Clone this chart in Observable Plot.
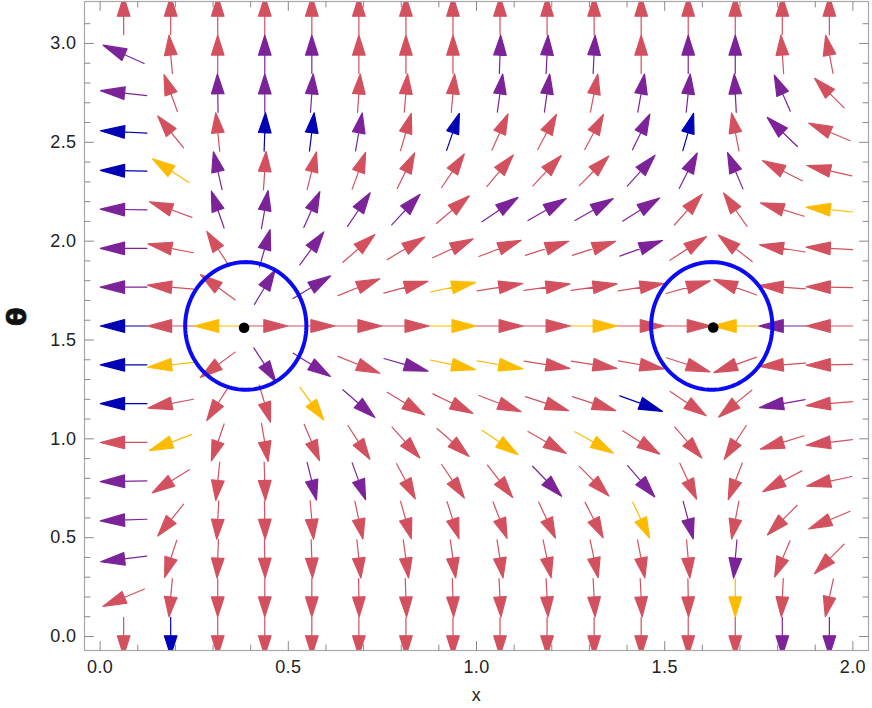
<!DOCTYPE html>
<html><head><meta charset="utf-8">
<script src="https://cdn.jsdelivr.net/npm/d3@7"></script>
<script src="https://cdn.jsdelivr.net/npm/@observablehq/plot@0.6"></script>
<style>body{margin:0;background:#fff;} svg text{letter-spacing:0.4px;}</style>
</head><body><div id="chart"></div>
<script>
// grid of the vector field
const xGrid = [0.0625,0.1875,0.3125,0.4375,0.5625,0.6875,0.8125,0.9375,1.0625,1.1875,1.3125,1.4375,1.5625,1.6875,1.8125,1.9375];
const thetaGrid = [0,0.1963,0.3927,0.5890,0.7854,0.9817,1.1781,1.3744,1.5708,1.7671,1.9635,2.1598,2.3562,2.5525,2.7489,2.9452,3.1416];
// arrow direction (degrees on screen, counter-clockwise from +x), rows from top (theta = pi) to bottom (theta = 0)
const arrowAngles = [
  [90,90,90,90,90,90,90,90,90,90,90,90,90,90,90,90],
  [156,95,90,90,90,90,90,90,88,87,87,90,90,90,94,101],
  [174,110,91,90,86,86,85,85,82,82,79,80,84,93,114,135],
  [177,129,96,88,83,80,74,71,66,62,62,64,74,101,136,157],
  [179,147,103,86,76,70,64,56,50,47,45,48,63,113,153,167],
  [179,160,109,80,66,56,47,40,34,30,30,32,48,125,163,174],
  [180,169,123,74,54,41,31,25,21,18,18,20,33,142,171,177],
  [180,175,144,59,31,22,15,12,9,8,8,9,16,160,176,179],
  [180,180,180,0,0,0,0,0,0,0,0,0,0,180,180,180],
  [180,186,216,303,328,338,344,348,350,351,351,350,342,200,184,181],
  [180,191,237,287,306,319,329,334,339,342,342,340,326,219,190,185],
  [180,201,251,280,293,303,312,319,326,330,331,328,311,237,197,187],
  [181,212,264,272,284,290,298,304,308,314,315,311,295,249,208,192],
  [182,231,267,271,275,282,286,288,291,295,297,295,285,259,225,203],
  [187,252,268,271,272,276,278,278,279,282,282,281,275,265,247,225],
  [203,265,270,270,270,271,272,272,273,273,273,273,271,270,267,258],
  [270,270,270,270,270,270,270,270,270,270,270,270,270,270,270,270]
];
// arrow colour class, same layout (b blue, p purple, r red, y yellow)
const arrowColorRows = [
  "r r r r r r r r r r r r r r r r",
  "p r r p p r r r p p p r p p r r",
  "p r p p p r r r p p r p p p p r",
  "b r r b b p r b r r r p b r p r",
  "b y p r r r r r r r r p p p r r",
  "p r p p p p p r p p p p r r r y",
  "p r r p p r r r r r r p r r r r",
  "p r r p p r r y r r r r r r r r",
  "b r y r r r r y r r y r r y p r",
  "b y r p p r p y y r r r r r r r",
  "b r r r y p r r r r r b r r p r",
  "r y r r r r r r y r y r r r r r",
  "p r r r p p r r r p r p r r r r",
  "p r r r r r r r r r r y p r r r",
  "p r r r r r r r r r r r r p r r",
  "r r r r r r r r r r r r r y r r",
  "r b r r r r r r r r r r r r p p"
];
const palette = {b: "#0000b4", p: "#7c2399", r: "#d3515f", y: "#fdbb00"};
// circles and fixed points
const circleX = [0.387, 1.625];
const circleY = [1.571, 1.571];
const circleRx = [0.161, 0.161];
const circleRy = [0.323, 0.323];
const fixedX = [0.3825, 1.629];
const fixedY = [1.562, 1.563];
const xTickLabels = [0, 0.5, 1.0, 1.5, 2.0];
const yTickLabels = [0, 0.5, 1.0, 1.5, 2.0, 2.5, 3.0];

const W = 872, H = 708, mL = 84, mR = 4, mT = 1, mB = 58;
const xDomain = [-0.0415, 2.0415];
const yDomain = [-0.0707, 3.2123];
const pxX = (W - mL - mR) / (xDomain[1] - xDomain[0]);
const pxY = (H - mT - mB) / (yDomain[1] - yDomain[0]);
const cellW = pxX * (xGrid[1] - xGrid[0]);
const cellH = pxY * (thetaGrid[1] - thetaGrid[0]);

const arrows = [];
arrowAngles.forEach((row, r) => {
  const cols = arrowColorRows[r].split(" ");
  row.forEach((a, c) => {
    const t = a * Math.PI / 180;
    const len = 1 / Math.sqrt((Math.cos(t) / cellW) ** 2 + (Math.sin(t) / cellH) ** 2);
    arrows.push({x: xGrid[c], y: thetaGrid[16 - r], rotate: 90 - a, length: len * 0.99, color: palette[cols[c]]});
  });
});

const arrowShape = {
  draw(ctx, l, r) {
    const h = l * 0.52;
    ctx.moveTo(0, 0);
    ctx.lineTo(0, -l + h * 0.8);
    ctx.moveTo(0, -l);
    ctx.lineTo(-r, -l + h);
    ctx.lineTo(r, -l + h);
    ctx.closePath();
  }
};
const tickShape = {draw(ctx, l) { ctx.moveTo(0, 0); ctx.lineTo(0, -l); }};

const xTicks = d3.range(0, 21).map(i => ({v: i / 10, len: i % 5 === 0 ? 9 : 5.5}));
const yTicks = d3.range(0, 32).map(i => ({v: i / 10, len: i % 5 === 0 ? 9 : 5.5}));

const ellipse = [];
circleX.forEach((cx, k) => {
  for (let i = 0; i <= 160; i++) {
    const t = i / 160 * 2 * Math.PI;
    ellipse.push({k, x: cx + circleRx[k] * Math.cos(t), y: circleY[k] + circleRy[k] * Math.sin(t)});
  }
});
const fixedPts = fixedX.map((x, i) => ({x, y: fixedY[i]}));

const tickStyle = {shape: tickShape, anchor: "start", stroke: "#8a8a8a", strokeWidth: 1, length: "len"};

const chart = Plot.plot({
  width: W, height: H,
  marginLeft: mL, marginRight: mR, marginTop: mT, marginBottom: mB,
  x: {domain: xDomain},
  y: {domain: yDomain},
  color: {type: "identity"},
  length: {type: "identity"},
  style: {fontFamily: "'Liberation Sans', Arial, sans-serif", background: "white", overflow: "visible"},
  marks: [
    Plot.vector(arrows, {x: "x", y: "y", rotate: "rotate", length: "length", anchor: "middle",
      shape: arrowShape, r: 6.3, stroke: "color", fill: "color", strokeWidth: 1.2, clip: true}),
    Plot.line(ellipse, {x: "x", y: "y", z: "k", stroke: "#0a0af5", strokeWidth: 4}),
    Plot.dot(fixedPts, {x: "x", y: "y", r: 5.3, fill: "black"}),
    Plot.frame({stroke: "#a8a8a8", strokeWidth: 1.2}),
    Plot.vector(xTicks, {...tickStyle, x: "v", y: () => yDomain[0], rotate: 0}),
    Plot.vector(xTicks, {...tickStyle, x: "v", y: () => yDomain[1], rotate: 180}),
    Plot.vector(yTicks, {...tickStyle, y: "v", x: () => xDomain[0], rotate: 90}),
    Plot.vector(yTicks, {...tickStyle, y: "v", x: () => xDomain[1], rotate: -90}),
    Plot.axisX({ticks: xTickLabels, tickFormat: d3.format(".1f"), tickSize: 0, tickPadding: 10, fontSize: 18, fill: "#222", label: null}),
    Plot.axisY({ticks: yTickLabels, tickFormat: d3.format(".1f"), tickSize: 0, tickPadding: 8, fontSize: 18, fill: "#222", label: null}),
    Plot.text(["x"], {frameAnchor: "bottom", dy: 50, fontSize: 18, fill: "#222"}),
    Plot.text(["θ"], {frameAnchor: "left", dx: -67, rotate: -90, fontSize: 27, fontWeight: "bold",
      fontFamily: "'DejaVu Sans', sans-serif", fill: "#111", stroke: "#111", strokeWidth: 0.8})
  ]
});
document.getElementById("chart").appendChild(chart);
</script>
</body></html>
